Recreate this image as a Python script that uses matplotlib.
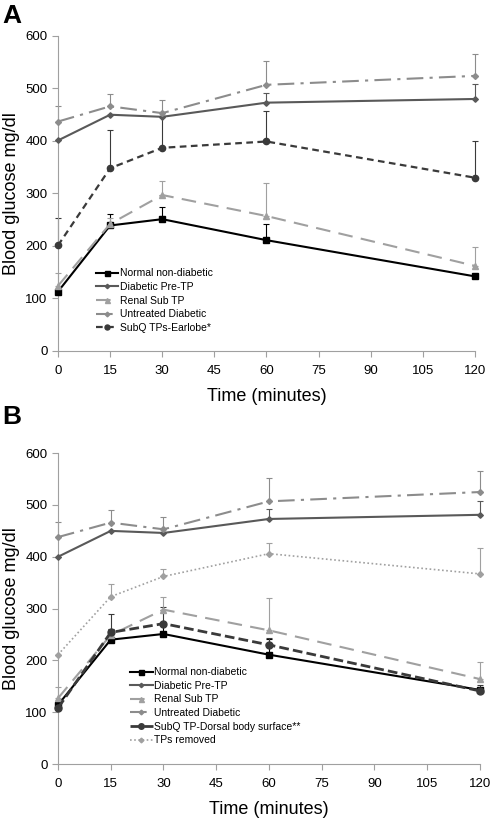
import numpy as np
import matplotlib.pyplot as plt

plt.rcParams['font.family'] = ['Liberation Sans', 'DejaVu Sans']

# Time points (minutes)
time = [0, 15, 30, 60, 120]

# Panel A data (mean, upper error)
a_normal = [113, 239, 251, 211, 142]
a_normal_err = [0, 21, 24, 30, 0]
a_diabetic = [401, 450, 446, 473, 480]
a_diabetic_err = [0, 0, 0, 19, 28]
a_renal = [124, 242, 297, 257, 162]
a_renal_err = [25, 11, 26, 62, 36]
a_untreated = [437, 466, 453, 507, 524]
a_untreated_err = [29, 23, 25, 45, 42]
a_subq = [201, 348, 387, 399, 330]
a_subq_err = [52, 73, 60, 58, 69]

# Panel B data (mean, upper error)
b_normal = [114, 240, 251, 211, 143]
b_normal_err = [0, 20, 24, 30, 0]
b_diabetic = [400, 450, 446, 473, 481]
b_diabetic_err = [0, 0, 0, 19, 27]
b_renal = [127, 249, 298, 258, 164]
b_renal_err = [22, 8, 24, 62, 33]
b_untreated = [438, 466, 453, 507, 525]
b_untreated_err = [29, 24, 24, 46, 40]
b_dorsal = [108, 254, 271, 230, 141]
b_dorsal_err = [0, 36, 33, 13, 12]
b_removed = [211, 323, 362, 406, 367]
b_removed_err = [0, 25, 14, 20, 49]

styles = {
    'Normal non-diabetic': dict(color='#000000', ls='-', marker='s', ms=4.5, lw=1.5),
    'Diabetic Pre-TP': dict(color='#595959', ls='-', marker='D', ms=2.8, lw=1.5),
    'Renal Sub TP': dict(color='#a0a0a0', ls=(0, (7, 4)), marker='^', ms=4.5, lw=1.5),
    'Untreated Diabetic': dict(color='#8c8c8c', ls=(0, (8, 3, 1.5, 3)), marker='D', ms=3, lw=1.5),
    'SubQ TPs-Earlobe*': dict(color='#3a3a3a', ls=(0, (3, 2)), marker='o', ms=4.5, lw=1.6),
    'SubQ TP-Dorsal body surface**': dict(color='#3a3a3a', ls=(0, (3.5, 1.5)), marker='o', ms=5, lw=2.0),
    'TPs removed': dict(color='#a0a0a0', ls=(0, (1, 1.5)), marker='D', ms=3, lw=1.2),
}

fig = plt.figure(figsize=(4.94, 8.18), dpi=100)
axA = fig.add_axes([0.1174, 0.571, 0.8441, 0.385])
axB = fig.add_axes([0.1174, 0.066, 0.854, 0.380])


def draw(ax, series):
    for label, vals, err in series:
        st = styles[label]
        ax.errorbar(time, vals, yerr=[np.zeros(len(err)), err], fmt='none',
                    ecolor=st['color'], elinewidth=0.8, capsize=2.5, capthick=0.8,
                    clip_on=False, zorder=2)
        ax.plot(time, vals, color=st['color'], linestyle=st['ls'], lw=st['lw'],
                marker=st['marker'], ms=st['ms'], mfc=st['color'], mec=st['color'],
                label=label, clip_on=False, zorder=3)
    ax.set_xlim(0, 120)
    ax.set_ylim(0, 600)
    ax.set_xticks(range(0, 121, 15))
    ax.set_yticks(range(0, 601, 100))
    for s in ['top', 'right']:
        ax.spines[s].set_visible(False)
    for s in ['left', 'bottom']:
        ax.spines[s].set_color('#a0a0a0')
        ax.spines[s].set_linewidth(0.8)
    ax.tick_params(axis='both', colors='#a0a0a0', labelcolor='black',
                   labelsize=9.5, length=4, width=0.8)
    ax.tick_params(axis='x', pad=6)
    ax.set_xlabel('Time (minutes)', fontsize=13, labelpad=8)
    ax.set_ylabel('Blood glucose mg/dl', fontsize=13, labelpad=4)


draw(axA, [
    ('Normal non-diabetic', a_normal, a_normal_err),
    ('Diabetic Pre-TP', a_diabetic, a_diabetic_err),
    ('Renal Sub TP', a_renal, a_renal_err),
    ('Untreated Diabetic', a_untreated, a_untreated_err),
    ('SubQ TPs-Earlobe*', a_subq, a_subq_err),
])
draw(axB, [
    ('Normal non-diabetic', b_normal, b_normal_err),
    ('Diabetic Pre-TP', b_diabetic, b_diabetic_err),
    ('Renal Sub TP', b_renal, b_renal_err),
    ('Untreated Diabetic', b_untreated, b_untreated_err),
    ('SubQ TP-Dorsal body surface**', b_dorsal, b_dorsal_err),
    ('TPs removed', b_removed, b_removed_err),
])

axA.legend(loc='upper left', bbox_to_anchor=(0.08, 0.275), frameon=False,
           fontsize=7.5, handlelength=2.2, handletextpad=0.15, labelspacing=0.35,
           borderaxespad=0, markerscale=0.8)
axB.legend(loc='upper left', bbox_to_anchor=(0.16, 0.325), frameon=False,
           fontsize=7.5, handlelength=2.2, handletextpad=0.15, labelspacing=0.35,
           borderaxespad=0, markerscale=0.8)

fig.text(0.005, 0.995, 'A', fontsize=19, fontweight='bold', va='top', ha='left')
fig.text(0.005, 0.505, 'B', fontsize=19, fontweight='bold', va='top', ha='left')

fig.savefig('out.png', dpi=100)
